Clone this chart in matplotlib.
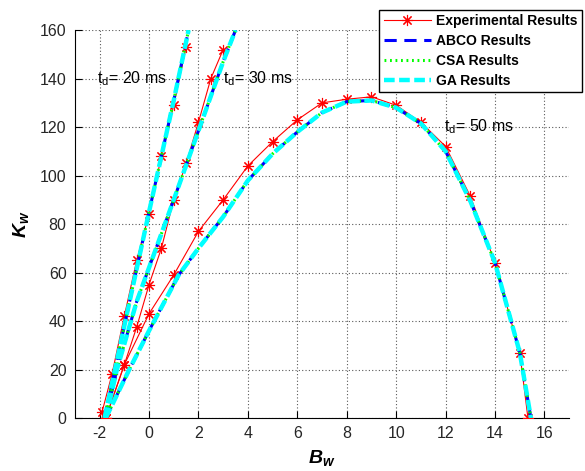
import matplotlib
matplotlib.use('Agg')
import matplotlib.pyplot as plt

plt.rcParams['font.family'] = ['Liberation Sans', 'DejaVu Sans']
plt.rcParams['axes.unicode_minus'] = False
plt.rcParams['mathtext.fontset'] = 'custom'
plt.rcParams['mathtext.rm'] = 'Liberation Sans'
plt.rcParams['mathtext.it'] = 'Liberation Sans:italic:bold'

# experimental results, one series per delay time
bw_exp_20 = [-1.9, -1.5, -1.0, -0.5, 0.0, 0.5, 1.0, 1.5]
kw_exp_20 = [2.5, 18, 42, 65, 84, 108, 129, 153]

bw_exp_30 = [-1.75, -1.0, -0.5, 0.0, 0.5, 1.0, 1.5, 2.0, 2.5, 3.0]
kw_exp_30 = [0, 22, 37.5, 55, 70, 90, 105, 122, 140, 152]

bw_exp_50 = [-1.75, -1.0, 0, 1, 2, 3, 4, 5, 6, 7, 8, 9, 10, 11, 12, 13, 14, 15, 15.33]
kw_exp_50 = [0, 22, 43, 59, 77, 90, 104, 114, 123, 130, 131.5, 132.5, 129, 122, 112, 91.5, 64, 27, 0]

# fitted curves (ABCO, CSA and GA give practically the same curve)
bw_fit_20 = [-1.8, -1.0, 0.0, 1.0, 1.6]
kw_fit_20 = [0, 38, 85, 131, 160]

bw_fit_30 = [-1.75, -1.3, -0.5, 0.0, 1.0, 2.0, 3.0, 3.5]
kw_fit_30 = [0, 20, 48, 62, 90, 118.5, 147, 160]

bw_fit_50 = [-1.75, -0.8, 0, 1.2, 2, 3, 4, 5, 6, 7, 8, 9, 10, 11, 12, 13, 14, 15, 15.45]
kw_fit_50 = [0, 20, 36, 59, 70, 83, 98, 109, 118, 126, 130.5, 131, 128, 121.5, 110, 89.5, 64, 27, 0]

fits = [(bw_fit_20, kw_fit_20), (bw_fit_30, kw_fit_30), (bw_fit_50, kw_fit_50)]
exps = [(bw_exp_20, kw_exp_20), (bw_exp_30, kw_exp_30), (bw_exp_50, kw_exp_50)]


def main():
    fig = plt.figure(figsize=(5.85, 4.71), dpi=100)
    ax = fig.add_axes([0.128, 0.1125, 0.845, 0.8235])

    for i, (b, k) in enumerate(exps):
        ax.plot(b, k, color='red', lw=0.8, marker=(8, 2, 0), markersize=8,
                markeredgewidth=0.8, label='Experimental Results' if i == 0 else None, zorder=3)
    for i, (b, k) in enumerate(fits):
        ax.plot(b, k, color='blue', lw=2.2, ls=(0, (4, 2.5)),
                label='ABCO Results' if i == 0 else None, zorder=4)
    for i, (b, k) in enumerate(fits):
        ax.plot(b, k, color='#00ff00', lw=2.2, ls=(0, (0.6, 1.2)),
                label='CSA Results' if i == 0 else None, zorder=5)
    for i, (b, k) in enumerate(fits):
        ax.plot(b, k, color='cyan', lw=3.2, ls=(0, (2.4, 1)),
                label='GA Results' if i == 0 else None, zorder=6)

    ax.text(-2.1, 140, r'$\mathrm{t_d}$= 20 ms', fontsize=11.5, va='center', ha='left')
    ax.text(3.0, 140, r'$\mathrm{t_d}$= 30 ms', fontsize=11.5, va='center', ha='left')
    ax.text(11.95, 120, r'$\mathrm{t_d}$= 50 ms', fontsize=11.5, va='center', ha='left')

    ax.set_xlim(-3, 17)
    ax.set_ylim(0, 160)
    ax.set_xticks(range(-2, 17, 2))
    ax.set_yticks(range(0, 161, 20))
    ax.grid(True, color='0.35', ls=(0, (1, 2)), lw=0.8)
    ax.spines['top'].set_visible(False)
    ax.spines['right'].set_visible(False)
    ax.tick_params(direction='in', length=5, labelsize=11.5, labelcolor='#262626', pad=6)

    ax.set_xlabel(r'$B_w$', fontsize=14, labelpad=5)
    ax.set_ylabel(r'$K_w$', fontsize=14, labelpad=6)

    fig.legend(loc='upper right', bbox_to_anchor=(582 / 585, 1 - 10 / 471),
               prop={'weight': 'bold', 'size': 10}, frameon=True, fancybox=False,
               edgecolor='black', framealpha=1, handlelength=3.4, handletextpad=0.4,
               labelspacing=0.42, borderpad=0.3, borderaxespad=0)

    fig.savefig('out.png', dpi=100)


if __name__ == '__main__':
    main()
